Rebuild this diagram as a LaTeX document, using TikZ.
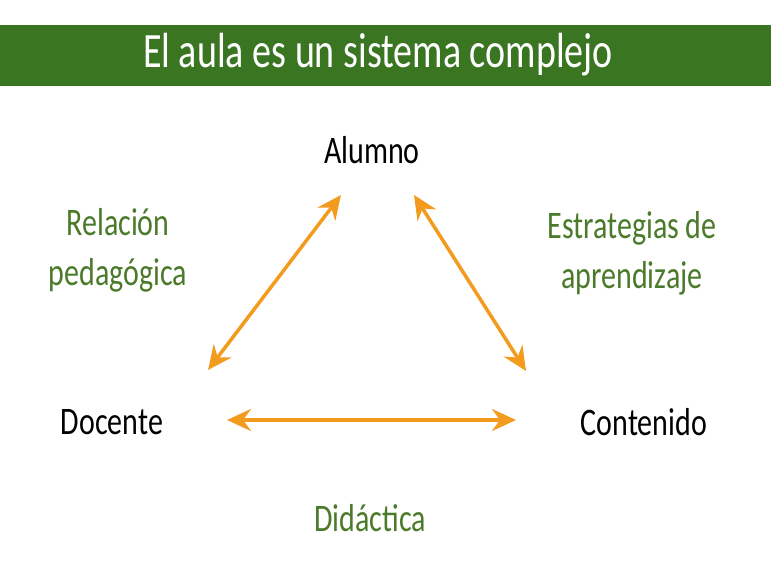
\documentclass[tikz,border=0pt]{standalone}
\usepackage{fontspec}
\setmainfont{Carlito}
\usepackage{xcolor}
\usetikzlibrary{arrows.meta}
\definecolor{bandgreen}{RGB}{58,117,34}
\definecolor{labelgreen}{RGB}{74,122,42}
\definecolor{arroworange}{RGB}{243,155,30}
\newcommand{\tallword}[1]{\scalebox{1}[1.3]{#1}}
\tikzset{
  vertex/.style={font=\fontsize{30}{32}\selectfont, text=black},
  relation/.style={font=\fontsize{30}{50}\selectfont, text=labelgreen, align=center},
  link/.style={arroworange, line width=3.5pt, {Stealth[length=24pt,width=22pt,inset=8pt]}-{Stealth[length=24pt,width=22pt,inset=8pt]}}
}

\begin{document}
\begin{tikzpicture}[x=1pt,y=-1pt]
        \useasboundingbox (0,0) rectangle (771,560);
        \fill [bandgreen] (0,25) rectangle (771,86);
        \node (title) [font=\fontsize{38}{40}\selectfont, text=white] at (378,55) {\tallword{El aula es un sistema complejo}};
        \node (alumno) [vertex] at (372,150) {\tallword{Alumno}};
        \node (docente) [vertex] at (112,422) {\tallword{Docente}};
        \node (contenido) [vertex] at (644,422) {\tallword{Contenido}};
        \node (relacion) [relation] at (118,250) {\tallword{Relación}\\\tallword{pedagógica}};
        \node (estrategias) [relation] at (632,253) {\tallword{Estrategias de}\\\tallword{aprendizaje}};
        \node (didactica) [relation] at (370,518) {\tallword{Didáctica}};
        % arrow ends
        \coordinate (al-l) at (341,195);
        \coordinate (al-r) at (414,195);
        \coordinate (do-u) at (208,370);
        \coordinate (do-r) at (227,420);
        \coordinate (co-u) at (526,371);
        \coordinate (co-l) at (516,420);
        \draw [link] (do-u) -- (al-l);
        \draw [link] (al-r) -- (co-u);
        \draw [link] (do-r) -- (co-l);
    \end{tikzpicture}
\end{document}
